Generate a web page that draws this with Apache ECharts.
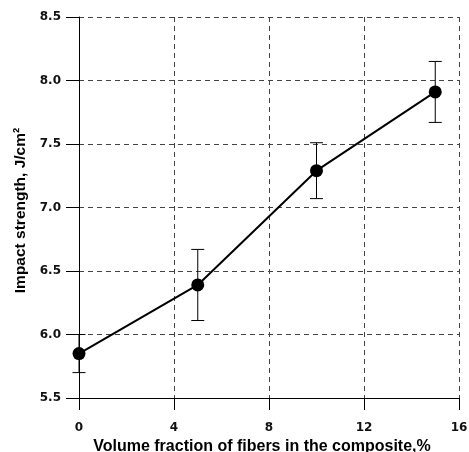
<!DOCTYPE html>
<html><head><meta charset="utf-8">
<script src="https://cdn.jsdelivr.net/npm/echarts@6/dist/echarts.min.js"></script>
<style>html,body{margin:0;padding:0;background:#fff;overflow:hidden}#c{width:469px;height:452px}</style>
</head><body><div id="c"></div>
<script>
var xValues = [0, 5, 10, 15];
var yValues = [5.85, 6.39, 7.29, 7.91];
var errLow = [5.70, 6.11, 7.07, 7.67];
var errHigh = [6.00, 6.67, 7.51, 8.15];
var xTitle = 'Volume fraction of fibers in the composite,%';
var yTitle = 'Impact strength, J/cm\u00B2';

var chart = echarts.init(document.getElementById('c'));
var pts = xValues.map(function(x, i){ return [x, yValues[i]]; });
var errs = xValues.map(function(x, i){ return [x, errLow[i], errHigh[i]]; });
var gridLine = {show:true, lineStyle:{color:'#444', type:[5,4], width:1}};
var tickFont = {fontFamily:'DejaVu Sans', fontWeight:'bold', fontSize:12, color:'#111'};
chart.setOption({
  animation:false,
  grid:{left:79, right:10, top:17, bottom:54, containLabel:false, outerBoundsMode:'none'},
  xAxis:{type:'value', min:0, max:16, interval:4,
    axisLine:{show:true, onZero:false, lineStyle:{color:'#000', width:1}},
    axisTick:{show:true, length:12, lineStyle:{color:'#000'}},
    axisLabel:Object.assign({margin:24}, tickFont),
    splitLine:gridLine,
    name:xTitle, nameLocation:'middle', nameGap:38,
    nameTextStyle:{fontFamily:'Liberation Sans', fontWeight:'bold', fontSize:16, color:'#000', padding:[0,14,0,0]}
  },
  yAxis:{type:'value', min:5.5, max:8.5, interval:0.5,
    axisLine:{show:true, onZero:false, lineStyle:{color:'#000', width:1}},
    axisTick:{show:true, length:13, lineStyle:{color:'#000'}},
    axisLabel:Object.assign({margin:18, formatter:function(v){return v.toFixed(1);}}, tickFont),
    splitLine:gridLine,
    name:yTitle, nameLocation:'middle', nameGap:46,
    nameTextStyle:{fontFamily:'Liberation Sans', fontWeight:'bold', fontSize:15.5, color:'#000', padding:[0,6,0,0]}
  },
  series:[
    {type:'custom', data:errs, z:2,
      renderItem:function(params, api){
        var x = api.value(0);
        var lo = api.coord([x, api.value(1)]);
        var hi = api.coord([x, api.value(2)]);
        var hw = 6.5;
        var st = {stroke:'#000', lineWidth:1};
        return {type:'group', children:[
          {type:'line', shape:{x1:lo[0], y1:lo[1], x2:hi[0], y2:hi[1]}, style:st},
          {type:'line', shape:{x1:lo[0]-hw, y1:lo[1], x2:lo[0]+hw, y2:lo[1]}, style:st},
          {type:'line', shape:{x1:hi[0]-hw, y1:hi[1], x2:hi[0]+hw, y2:hi[1]}, style:st}
        ]};
      }
    },
    {type:'line', data:pts, z:3, symbol:'circle', symbolSize:13,
      lineStyle:{color:'#000', width:2}, itemStyle:{color:'#000'}}
  ]
});
</script></body></html>
